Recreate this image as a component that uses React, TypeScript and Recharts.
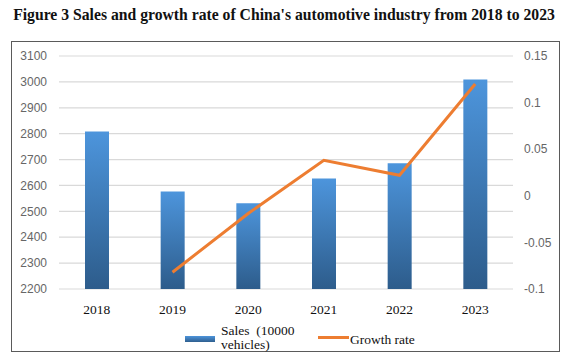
import {
  Bar,
  CartesianGrid,
  ComposedChart,
  Legend,
  Line,
  XAxis,
  YAxis,
} from "recharts";

const years = ["2018", "2019", "2020", "2021", "2022", "2023"];
const sales = [2808, 2577, 2531, 2627, 2686, 3009];
const growth = [null, -0.082, -0.019, 0.038, 0.022, 0.12];
const salesTicks = [2200, 2300, 2400, 2500, 2600, 2700, 2800, 2900, 3000, 3100];
const growthTicks = [-0.1, -0.05, 0, 0.05, 0.1, 0.15];

const data = years.map((year, i) => ({
  year,
  sales: sales[i],
  growth: growth[i],
}));

const SERIF = '"Liberation Serif", "Times New Roman", serif';
const SANS = '"Liberation Sans", Arial, sans-serif';

function LegendBox() {
  return (
    <div style={{ position: "relative", width: 547, height: 30, fontFamily: SERIF, fontSize: 13.5, color: "#111" }}>
      <div
        style={{
          position: "absolute",
          left: 173,
          top: 12,
          width: 30,
          height: 6,
          background: "linear-gradient(#4d94db, #2f5f8f)",
        }}
      />
      <div style={{ position: "absolute", left: 209, top: 0, lineHeight: "14px", whiteSpace: "nowrap" }}>
        Sales{"\u00a0\u00a0"}(10000
        <br />
        vehicles)
      </div>
      <div
        style={{
          position: "absolute",
          left: 306,
          top: 12,
          width: 31,
          height: 3,
          background: "#ed7d31",
        }}
      />
      <div style={{ position: "absolute", left: 338, top: 8, lineHeight: "15px", whiteSpace: "nowrap" }}>
        Growth rate
      </div>
    </div>
  );
}

export default function App() {
  return (
    <div
      style={{
        position: "absolute",
        left: 0,
        top: 0,
        width: 568,
        height: 357,
        background: "#fff",
      }}
    >
      <div
        style={{
          position: "absolute",
          left: 0,
          top: 5,
          width: 568,
          textAlign: "center",
          fontFamily: SERIF,
          fontWeight: "bold",
          fontSize: 15.7,
          lineHeight: "20px",
          color: "#111",
          whiteSpace: "nowrap",
        }}
      >
        Figure 3 Sales and growth rate of China's automotive industry from 2018 to 2023
      </div>
      <div
        style={{
          position: "absolute",
          left: 11,
          top: 41,
          width: 547,
          height: 309,
          border: "1px solid #5a5a5a",
        }}
      >
        <ComposedChart
          width={547}
          height={309}
          data={data}
          barCategoryGap={0}
          margin={{ top: 14, right: 0, left: 0, bottom: 42 }}
        >
          <defs>
            <linearGradient id="salesFill" x1="0" y1="0" x2="0" y2="1">
              <stop offset="0%" stopColor="#4d95dc" />
              <stop offset="100%" stopColor="#2d5c8b" />
            </linearGradient>
          </defs>
          <CartesianGrid yAxisId="left" vertical={false} stroke="#d9d9d9" strokeWidth={1.2} />
          <XAxis
            dataKey="year"
            axisLine={false}
            tickLine={false}
            tickSize={6}
            tickMargin={9}
            height={20}
            tick={{ fill: "#111", fontFamily: SERIF, fontSize: 13.5 }}
          />
          <YAxis
            yAxisId="left"
            orientation="left"
            domain={[2200, 3100]}
            ticks={salesTicks}
            width={47}
            axisLine={false}
            tickLine={false}
            tickSize={6}
            tickMargin={6}
            interval={0}
            tick={{ fill: "#666", fontFamily: SANS, fontSize: 12 }}
          />
          <YAxis
            yAxisId="right"
            orientation="right"
            domain={[-0.1, 0.15]}
            ticks={growthTicks}
            width={46}
            axisLine={false}
            tickLine={false}
            tickSize={6}
            tickMargin={5}
            interval={0}
            tick={{ fill: "#666", fontFamily: SANS, fontSize: 12 }}
          />
          <Bar
            yAxisId="left"
            dataKey="sales"
            barSize={24}
            fill="url(#salesFill)"
            isAnimationActive={false}
          />
          <Line
            yAxisId="right"
            dataKey="growth"
            type="linear"
            stroke="#ed7d31"
            strokeWidth={3}
            dot={false}
            activeDot={false}
            isAnimationActive={false}
          />
          <Legend
            layout="horizontal"
            verticalAlign="middle"
            align="center"
            wrapperStyle={{ top: 282, left: 0, width: 547 }}
            content={() => <LegendBox />}
          />
        </ComposedChart>
      </div>
    </div>
  );
}
